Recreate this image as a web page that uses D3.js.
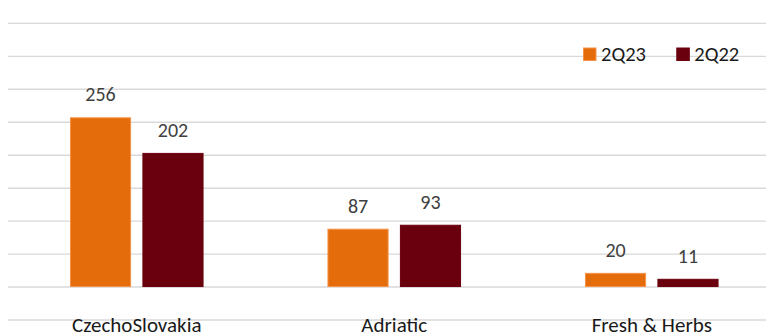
<!DOCTYPE html>
<html><head><meta charset="utf-8">
<script src="https://cdn.jsdelivr.net/npm/d3@7"></script>
<style>
html,body{margin:0;padding:0;background:#fff;}
svg{display:block;font-family:Carlito,Lato,"Open Sans",sans-serif;}
</style></head>
<body><svg id="c" width="766" height="336"></svg>
<script>
const categories = ["CzechoSlovakia", "Adriatic", "Fresh & Herbs"];
const seriesNames = ["2Q23", "2Q22"];
const values2Q23 = [256, 87, 20];
const values2Q22 = [202, 93, 11];
const yTicks = [-50, 0, 50, 100, 150, 200, 250, 300, 350, 400];
const colors = ["#E46C0A", "#6A000D"];
const strokes = ["#F4934A", "#6A000D"];

const svg = d3.select("#c");
const W = 766;
const x = d3.scaleBand().domain(categories).range([8, 780.5]).paddingInner(0).paddingOuter(0);
const y = d3.scaleLinear().domain([-50, 400]).range([319.5, 22.9]);
const xs = d3.scaleBand().domain(seriesNames).range([0, 132.6]).paddingInner(0.17);

// gridlines
const yAxis = d3.axisLeft(y).tickValues(yTicks).tickSize(-(W - 8)).tickFormat("");
const ga = svg.append("g").attr("transform", "translate(8,0)").call(yAxis);
ga.select(".domain").remove();
ga.selectAll(".tick line").attr("stroke", "#d9d9d9").attr("stroke-width", 1.4);

const groupOffset = (x.bandwidth() - 132.6) / 2;
const data = categories.map((c, i) => ({cat: c, vals: [values2Q23[i], values2Q22[i]]}));

const g = svg.append("g");
data.forEach(d => {
  d.vals.forEach((v, si) => {
    const bx = x(d.cat) + groupOffset + xs(seriesNames[si]);
    g.append("rect")
      .attr("x", bx).attr("y", y(v))
      .attr("width", xs.bandwidth()).attr("height", y(0) - y(v))
      .attr("fill", colors[si]).attr("stroke", strokes[si]).attr("stroke-width", 1);
    g.append("text")
      .attr("x", bx + xs.bandwidth() / 2).attr("y", y(v) - 16.5)
      .attr("text-anchor", "middle").attr("font-size", 20).attr("fill", "#404040")
      .text(d3.format("d")(v));
  });
});

// category labels
svg.append("g").selectAll("text").data(categories).join("text")
  .attr("x", d => x(d) + x.bandwidth() / 2).attr("y", 331.5)
  .attr("text-anchor", "middle").attr("font-size", 21).attr("fill", "#1a1a1a")
  .text(d => d);

// legend
const legX = [583, 676.3];
const lg = svg.append("g");
seriesNames.forEach((s, i) => {
  lg.append("rect").attr("x", legX[i] + 0.5).attr("y", 48).attr("width", 12.5).attr("height", 12.5)
    .attr("fill", colors[i]).attr("stroke", strokes[i]).attr("stroke-width", 1);
  lg.append("text").attr("x", legX[i] + 18).attr("y", 61)
    .attr("font-size", 20.5).attr("fill", "#1a1a1a").text(s);
});
</script></body></html>
